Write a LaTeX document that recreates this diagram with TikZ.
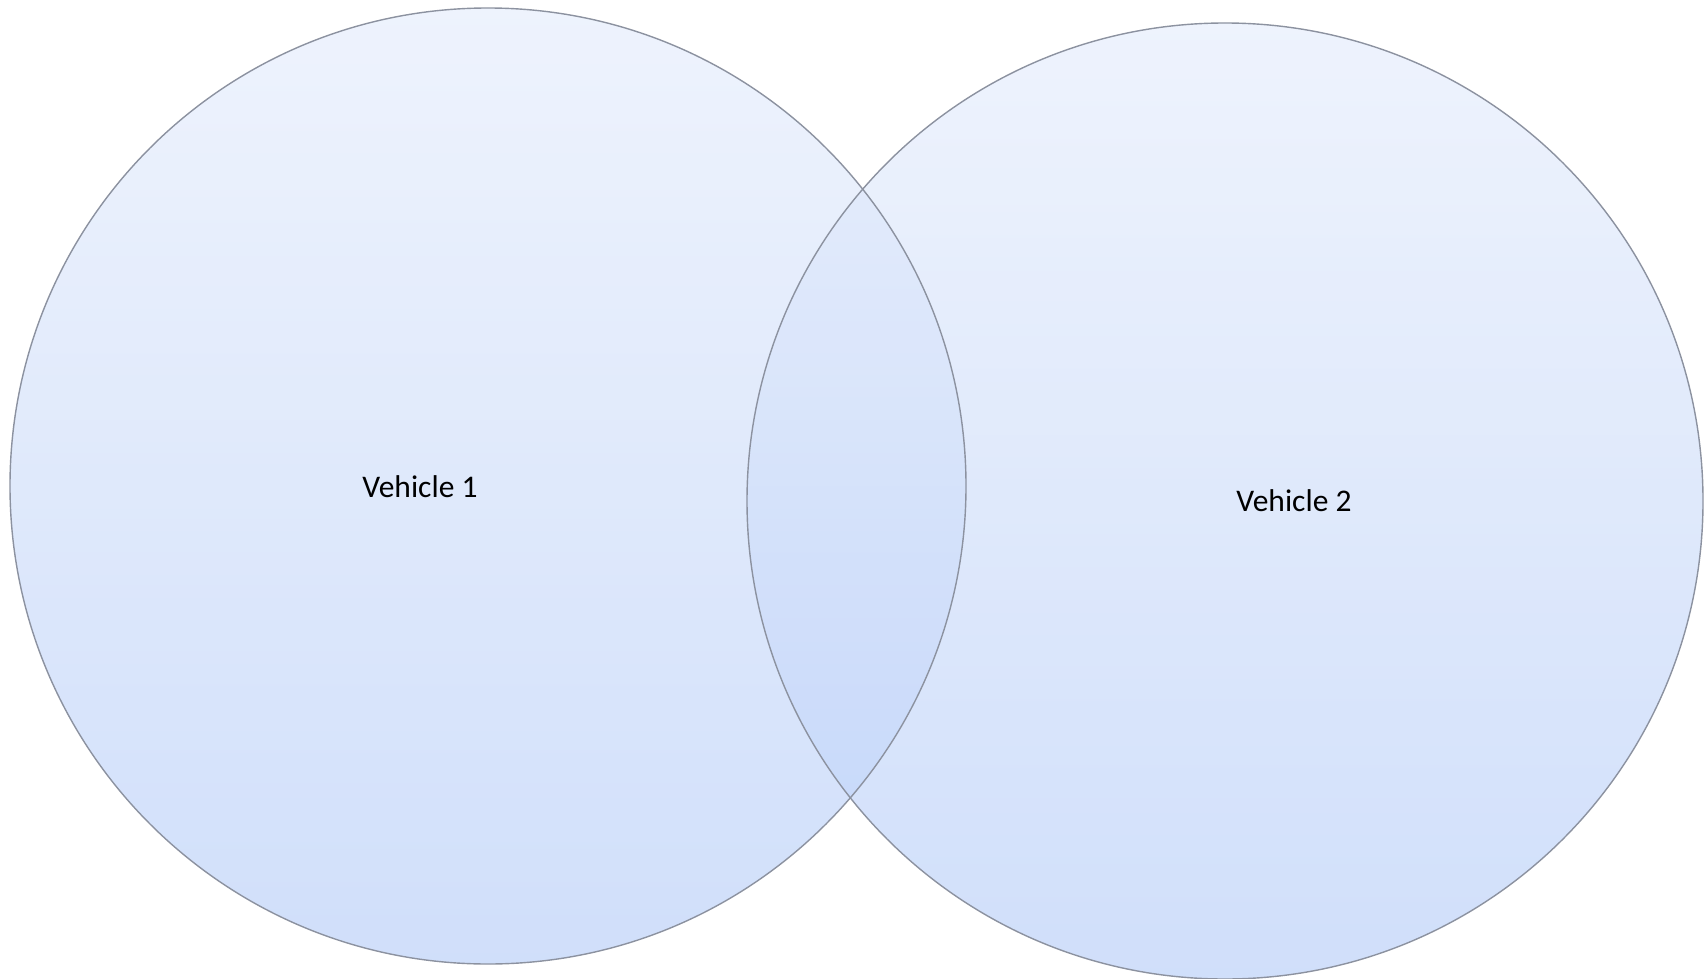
\documentclass[tikz,border=0pt]{standalone}
\usepackage{fontspec}
\setmainfont{Carlito}
\definecolor{topc}{RGB}{231,238,252}
\definecolor{botc}{RGB}{188,209,248}
\definecolor{edgec}{RGB}{140,146,160}
\begin{document}
\begin{tikzpicture}[x=1pt,y=-1pt,
  venn/.style={circle, minimum size=956pt, inner sep=0pt, shade, top color=topc, bottom color=botc, fill opacity=0.7, draw=none},
  ring/.style={circle, minimum size=956pt, inner sep=0pt, draw=edgec, line width=1.4pt},
  lbl/.style={font=\fontsize{31.5}{37}\selectfont, text=black, inner sep=0pt}]
\useasboundingbox (0,0) rectangle (1707,979);
\node[venn] (c1) at (488,486) {};
\node[venn] (c2) at (1225,501) {};
\node[ring] (r1) at (c1.center) {};
\node[ring] (r2) at (c2.center) {};
\node[lbl] (t1) at (420,487) {Vehicle 1};
\node[lbl] (t2) at (1294,501) {Vehicle 2};
\end{tikzpicture}
\end{document}
